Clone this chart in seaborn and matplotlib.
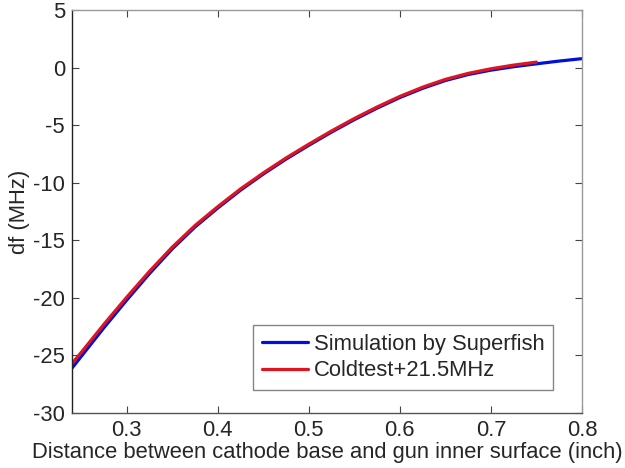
import matplotlib
matplotlib.use('Agg')
import matplotlib.pyplot as plt
import seaborn as sns
import pandas as pd

# values
sim_x = [0.24, 0.25, 0.275, 0.30, 0.325, 0.35, 0.375, 0.40, 0.425, 0.45, 0.475, 0.50,
         0.525, 0.55, 0.575, 0.60, 0.625, 0.65, 0.675, 0.70, 0.725, 0.75, 0.775, 0.80]
sim_y = [-26.1, -25.1, -22.6, -20.2, -17.9, -15.75, -13.85, -12.2, -10.65, -9.25, -7.95, -6.75,
         -5.6, -4.52, -3.52, -2.6, -1.8, -1.12, -0.6, -0.22, 0.08, 0.33, 0.57, 0.78]

cold_x = [0.24, 0.25, 0.275, 0.30, 0.325, 0.35, 0.375, 0.40, 0.425, 0.45, 0.475, 0.50,
          0.525, 0.55, 0.575, 0.60, 0.625, 0.65, 0.675, 0.70, 0.725, 0.75]
cold_y = [-25.7, -24.75, -22.3, -19.95, -17.7, -15.6, -13.72, -12.08, -10.54, -9.15, -7.85, -6.65,
          -5.5, -4.42, -3.42, -2.5, -1.7, -1.02, -0.5, -0.1, 0.22, 0.48]

sim_label = 'Simulation by Superfish'
cold_label = 'Coldtest+21.5MHz'

df = pd.concat([
    pd.DataFrame({'x': sim_x, 'y': sim_y, 'series': sim_label}),
    pd.DataFrame({'x': cold_x, 'y': cold_y, 'series': cold_label}),
])

sns.set_style('ticks')
plt.rcParams['font.family'] = ['Liberation Sans', 'DejaVu Sans']
plt.rcParams['axes.unicode_minus'] = False
fs = 15.8

fig = plt.figure(figsize=(6.25, 4.68), dpi=100)
ax = fig.add_axes([0.1152, 0.1175, 0.816, 0.861])

sns.lineplot(data=df, x='x', y='y', hue='series', sort=False,
             palette={sim_label: '#0010d8', cold_label: '#e0141e'},
             linewidth=2.3, ax=ax)

ax.set_xlim(0.24, 0.8)
ax.set_ylim(-30, 5)
ax.set_xticks([0.3, 0.4, 0.5, 0.6, 0.7, 0.8])
ax.set_yticks(range(-30, 6, 5))
ax.tick_params(direction='in', length=5, top=True, right=True,
               labelsize=fs, color='#444444', pad=5)
for side in ['top', 'right']:
    ax.spines[side].set_color('#999999')
ax.spines['left'].set_color('#222222')
ax.spines['bottom'].set_color('#555555')
for sp in ax.spines.values():
    sp.set_linewidth(1.0)

ax.set_xlabel('Distance between cathode base and gun inner surface (inch)', fontsize=fs, labelpad=1)
ax.set_ylabel('df (MHz)', fontsize=fs, labelpad=2)

leg = ax.legend(loc='lower right', bbox_to_anchor=(0.943, 0.057), borderaxespad=0,
                fontsize=fs, frameon=True, fancybox=False, handlelength=2.1,
                borderpad=0.4, labelspacing=0.25, handletextpad=0.27)
leg.get_frame().set_edgecolor('#666666')
leg.get_frame().set_linewidth(1.0)

fig.savefig('out.png', dpi=100)
